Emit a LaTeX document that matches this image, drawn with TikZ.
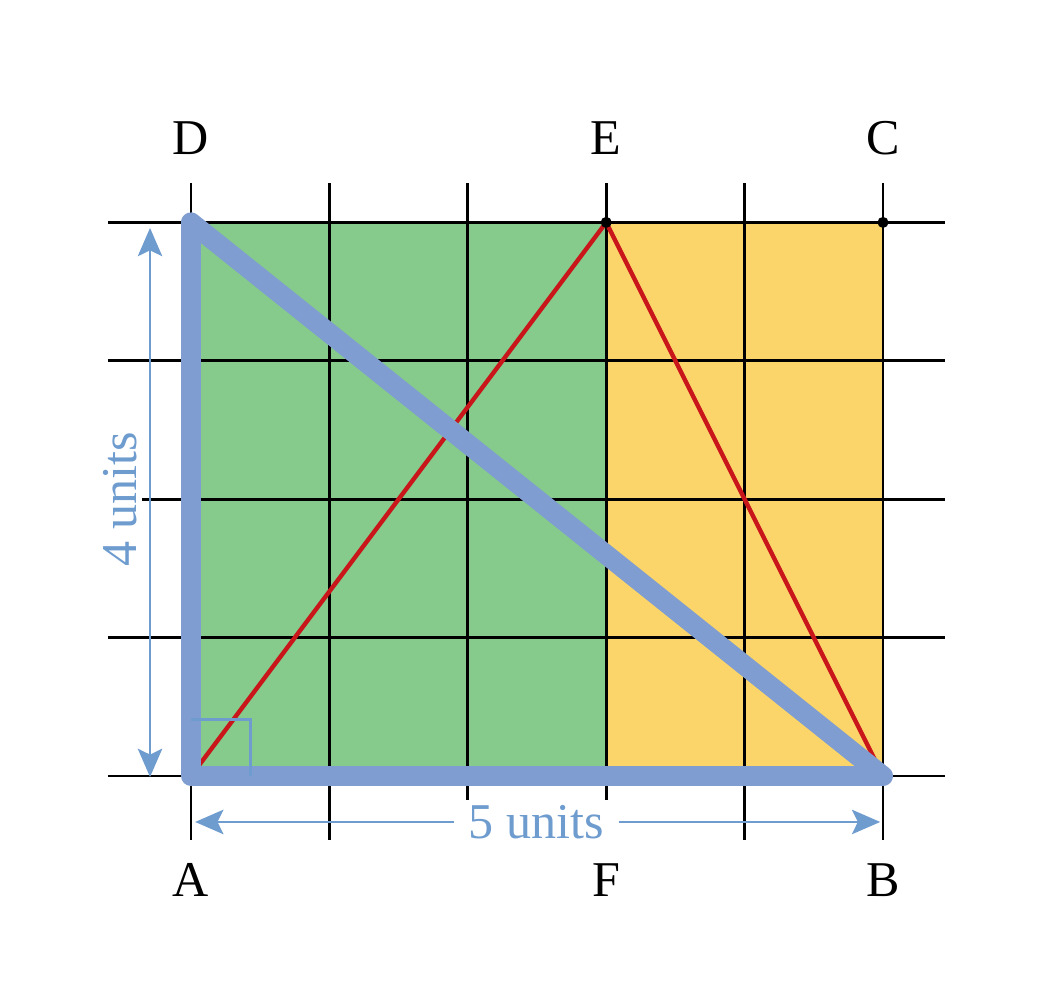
\documentclass[tikz,border=0pt]{standalone}
\usepackage{fontspec}
\setmainfont{Liberation Serif}
\usetikzlibrary{arrows.meta}

\definecolor{leftgreen}{HTML}{86CA8C}
\definecolor{rightyellow}{HTML}{FBD46A}
\definecolor{legblue}{HTML}{7F9DD0}
\definecolor{dimblue}{HTML}{6E9CCF}
\definecolor{edgered}{HTML}{C8161A}

\begin{document}
\begin{tikzpicture}
            [font=\fontsize{10.3}{12}\selectfont,
            gridline/.style={draw=black, line width=0.6pt},
            redline/.style={draw=edgered, line width=0.9pt},
            legline/.style={draw=legblue, line width=4.1pt, line join=round, line cap=round},
            dimline/.style={draw=dimblue, line width=0.6pt,
              {Stealth[length=5.8pt,width=5pt,inset=1.2pt]}-{Stealth[length=5.8pt,width=5pt,inset=1.2pt]}},
            dimlabel/.style={text=dimblue, fill=white, inner sep=1pt},
            ptlabel/.style={inner sep=1pt}]
            \useasboundingbox (-1.380,-1.676) rectangle (6.243,5.607);
            % corner points
            \coordinate (A) at (0,0);
            \coordinate (B) at (5,0);
            \coordinate (C) at (5,4);
            \coordinate (D) at (0,4);
            \coordinate (E) at (3,4);
            \coordinate (F) at (3,0);
            % coloured halves
            \fill[leftgreen] (A) rectangle (E);
            \fill[rightyellow] (F) rectangle (C);
            % grid
            \foreach \x in {0,...,5}
                \draw[gridline] (\x,-0.46) -- (\x,4.285);
            \foreach \y in {0,...,4}
                \draw[gridline] (-0.6,\y) -- (5.45,\y);
            % red triangle
            \draw[redline] (A) -- (E) -- (B);
            \fill (E) circle (0.04);
            \fill (C) circle (0.04);
            % right triangle
            \draw[legline] (D) -- (A) -- (B) -- cycle;
            \draw[draw=dimblue, line width=0.7pt] (0,0.41) -- (0.43,0.41) -- (0.43,0);
            % dimensions
            \coordinate (h1) at (-0.296,-0.007);
            \coordinate (h2) at (-0.296,3.96);
            \draw[dimline] (h1) -- (h2);
            \node[dimlabel, rotate=90] (height) at (-0.51,2.0) {4 units};
            \coordinate (w1) at (0.03,-0.332);
            \coordinate (w2) at (4.98,-0.332);
            \draw[dimline] (w1) -- (w2);
            \node[dimlabel, inner xsep=3pt] (width) at (2.496,-0.332) {5 units};
            % point labels
            \node[ptlabel] (lD) at (0,4.61) {D};
            \node[ptlabel] (lE) at (3,4.61) {E};
            \node[ptlabel] (lC) at (5,4.61) {C};
            \node[ptlabel] (lA) at (0,-0.75) {A};
            \node[ptlabel] (lF) at (3,-0.75) {F};
            \node[ptlabel] (lB) at (5,-0.75) {B};
\end{tikzpicture}
\end{document}
